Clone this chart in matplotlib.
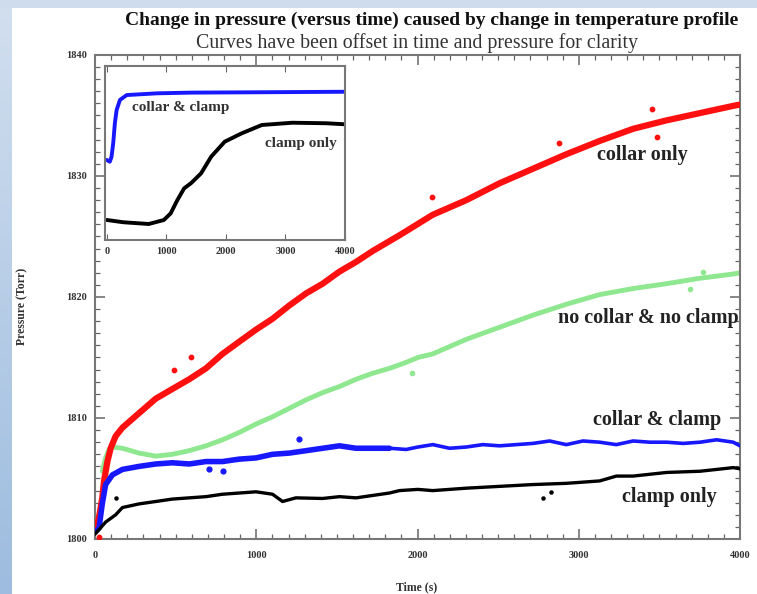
import matplotlib
matplotlib.use("Agg")
import matplotlib.pyplot as plt
import numpy as np
from matplotlib.ticker import MultipleLocator
from matplotlib.colors import LinearSegmentedColormap

# ---------------- data ----------------
t_red = [0, 25, 45, 56, 77, 97, 128, 170, 273, 377, 480, 584, 688, 791, 894, 998,
         1101, 1205, 1309, 1412, 1516, 1619, 1722, 1888, 2095, 2302, 2509, 2716,
         2923, 3130, 3337, 3545, 3752, 3959, 4000]
p_red = [1800.6, 1801.8, 1803.4, 1804.8, 1806.4, 1807.5, 1808.5, 1809.2, 1810.4,
         1811.6, 1812.4, 1813.2, 1814.1, 1815.3, 1816.3, 1817.3, 1818.2, 1819.3,
         1820.3, 1821.1, 1822.1, 1822.9, 1823.8, 1825.1, 1826.8, 1828.0, 1829.4,
         1830.6, 1831.8, 1832.9, 1833.9, 1834.6, 1835.2, 1835.8, 1835.9]
t_red_out = [25, 490, 596, 2093, 2876, 3453, 3484]
p_red_out = [1800.2, 1814.0, 1815.0, 1828.3, 1832.7, 1835.5, 1833.2]

t_green = [45, 66, 87, 108, 170, 273, 377, 480, 584, 688, 791, 894, 998, 1101,
           1205, 1309, 1412, 1516, 1619, 1722, 1826, 1930, 2002, 2095, 2302, 2509,
           2716, 2923, 3130, 3337, 3545, 3752, 3959, 4000]
p_green = [1805.6, 1806.7, 1807.4, 1807.6, 1807.5, 1807.1, 1806.85, 1807.0, 1807.3,
           1807.7, 1808.2, 1808.8, 1809.5, 1810.1, 1810.8, 1811.5, 1812.1, 1812.6,
           1813.2, 1813.7, 1814.1, 1814.6, 1815.0, 1815.3, 1816.5, 1817.5, 1818.5,
           1819.4, 1820.2, 1820.7, 1821.1, 1821.55, 1821.9, 1822.0]
t_green_out = [1963, 3690, 3770]
p_green_out = [1813.7, 1820.7, 1822.1]

t_blue = [0, 25, 45, 66, 108, 170, 273, 377, 480, 584, 688, 791, 894, 998, 1101,
          1205, 1309, 1412, 1516, 1619, 1722, 1826, 1930, 2002, 2095, 2198, 2302,
          2405, 2509, 2612, 2716, 2819, 2923, 3026, 3130, 3233, 3337, 3441, 3545,
          3648, 3752, 3855, 3958, 4000]
p_blue = [1800.6, 1800.9, 1802.9, 1804.5, 1805.3, 1805.75, 1806.0, 1806.2, 1806.3,
          1806.2, 1806.4, 1806.4, 1806.6, 1806.7, 1807.0, 1807.1, 1807.3, 1807.5,
          1807.7, 1807.5, 1807.5, 1807.5, 1807.4, 1807.6, 1807.8, 1807.5, 1807.6,
          1807.8, 1807.7, 1807.8, 1807.9, 1808.1, 1807.8, 1808.1, 1808.0, 1807.8,
          1808.1, 1808.0, 1808.0, 1807.9, 1808.0, 1808.2, 1808.0, 1807.7]
t_blue_out = [708, 791, 1267]
p_blue_out = [1805.75, 1805.6, 1808.3]

t_black = [0, 66, 128, 170, 273, 377, 480, 584, 688, 791, 894, 998, 1101, 1163,
           1246, 1412, 1516, 1619, 1722, 1826, 1888, 2002, 2095, 2302, 2509, 2716,
           2923, 3130, 3233, 3337, 3545, 3752, 3958, 4000]
p_black = [1800.4, 1801.4, 1802.0, 1802.6, 1802.9, 1803.1, 1803.3, 1803.4, 1803.5,
           1803.7, 1803.8, 1803.9, 1803.7, 1803.1, 1803.4, 1803.35, 1803.5, 1803.4,
           1803.6, 1803.8, 1804.0, 1804.1, 1804.0, 1804.2, 1804.35, 1804.5, 1804.6,
           1804.8, 1805.2, 1805.2, 1805.5, 1805.6, 1805.9, 1805.8]
t_black_out = [128, 2778, 2830]
p_black_out = [1803.4, 1803.4, 1803.9]

# inset (arbitrary pressure units)
t_in_blue = [0, 51, 80, 108, 136, 165, 221, 335, 846, 1413, 2548, 4000]
p_in_blue = [4.6, 4.5, 4.79, 5.57, 6.72, 7.47, 8.05, 8.33, 8.43, 8.47, 8.49, 8.52]
t_in_black = [0, 278, 704, 959, 1072, 1186, 1299, 1413, 1583, 1753, 1980, 2265,
              2604, 3115, 3682, 4000]
p_in_black = [1.15, 1.02, 0.92, 1.15, 1.53, 2.3, 2.97, 3.26, 3.83, 4.79, 5.65,
              6.13, 6.61, 6.74, 6.71, 6.65]

title = "Change in pressure (versus time) caused by change in temperature profile"
subtitle = "Curves have been offset in time and pressure for clarity"
labels_main = ["collar only", "no collar & no clamp", "collar & clamp", "clamp only"]
labels_inset = ["collar & clamp", "clamp only"]

# ---------------- figure ----------------
W, H = 757, 594
fig = plt.figure(figsize=(W / 100, H / 100), dpi=100)
fig.patch.set_facecolor("white")
serif = ["Liberation Serif", "DejaVu Serif"]

# light-blue frame strips
bg = fig.add_axes([0, 0, 1, 1], zorder=-10)
grad = np.linspace(0, 1, 256).reshape(-1, 1)
cm = LinearSegmentedColormap.from_list("bl", ["#d2dfef", "#9dbcdf"])
bg.imshow(grad, cmap=cm, extent=[0, 12, H, 0], aspect="auto")
bg.add_patch(plt.Rectangle((0, 0), W, 8, color="#cfdcee", lw=0))
bg.set_xlim(0, W); bg.set_ylim(H, 0); bg.axis("off")

def fx(px):
    return px / W

def fy(py):
    return 1 - py / H

# main axes: x 95..740, y 55..539
ax = fig.add_axes([fx(95), fy(539), (740 - 95) / W, (539 - 55) / H])
ax.set_xlim(0, 4000)
ax.set_ylim(1800, 1840)

ax.plot(t_red, p_red, color="#ff1010", lw=4.5, solid_capstyle="round", zorder=3)
ax.scatter(t_red_out, p_red_out, s=10, color="#ff1010", zorder=3)
ax.plot(t_green, p_green, color="#8fe88f", lw=3.5, solid_capstyle="round", zorder=2)
ax.scatter(t_green_out, p_green_out, s=9, color="#8fe88f", zorder=2)
nb = sum(1 for t in t_blue if t <= 1830)
ax.plot(t_blue[:nb], p_blue[:nb], color="#1818ff", lw=4.0, solid_capstyle="round", zorder=4)
ax.plot(t_blue[nb - 1:], p_blue[nb - 1:], color="#1818ff", lw=2.6, solid_capstyle="round", zorder=4)
ax.scatter(t_blue_out, p_blue_out, s=12, color="#1818ff", zorder=4)
ax.plot(t_black, p_black, color="black", lw=2.4, solid_capstyle="round", zorder=5)
ax.scatter(t_black_out, p_black_out, s=5, color="black", zorder=5)

ax.xaxis.set_major_locator(MultipleLocator(1000))
ax.xaxis.set_minor_locator(MultipleLocator(100))
ax.yaxis.set_major_locator(MultipleLocator(10))
ax.yaxis.set_minor_locator(MultipleLocator(1))
ax.tick_params(which="both", direction="in", top=True, right=True, color="#666666")
ax.tick_params(which="major", length=7, width=1.1)
ax.tick_params(which="minor", length=3.5, width=0.9)
ax.tick_params(axis="x", pad=9)
ax.tick_params(axis="y", pad=6)
for s in ax.spines.values():
    s.set_color("#777777"); s.set_linewidth(1.5)
for lab in ax.get_xticklabels() + ax.get_yticklabels():
    lab.set_fontfamily(serif); lab.set_fontweight("bold"); lab.set_fontsize(7.5)
    lab.set_color("#333333")

lkw = dict(fontfamily=serif, fontweight="bold", fontsize=14.5, color="#222222",
           ha="center", va="center")
ax.text(3392, 1831.7, labels_main[0], **lkw)
ax.text(3429, 1818.3, labels_main[1], **lkw)
ax.text(3485, 1809.8, labels_main[2], **lkw)
ax.text(3560, 1803.5, labels_main[3], **lkw)

# titles and axis labels
fig.text(fx(432), fy(20), title, fontfamily=serif, fontweight="bold", fontsize=14,
         ha="center", va="center", color="#111111")
fig.text(fx(417), fy(43), subtitle, fontfamily=serif, fontsize=14.3,
         ha="center", va="center", color="#333333")
fig.text(fx(22), fy(306), "Pressure (Torr)", fontfamily=serif, fontweight="bold",
         fontsize=8.5, rotation=90, ha="center", va="center", color="#333333")
fig.text(fx(417), fy(587), "Time (s)", fontfamily=serif, fontweight="bold",
         fontsize=8.5, ha="center", va="center", color="#333333")

# inset: x 105..345, y 66..240
axi = fig.add_axes([fx(105), fy(240), (345 - 105) / W, (240 - 66) / H], zorder=6)
axi.set_facecolor("white")
axi.set_xlim(-30, 4000)
axi.set_ylim(0, 10)
axi.plot(t_in_blue, p_in_blue, color="#1818ff", lw=2.8, solid_capstyle="round")
axi.plot(t_in_black, p_in_black, color="black", lw=2.8, solid_capstyle="round")
axi.xaxis.set_major_locator(MultipleLocator(1000))
axi.set_yticks([])
axi.tick_params(axis="x", which="major", direction="in", top=True, length=4,
                color="#666666", pad=5)
for s in axi.spines.values():
    s.set_color("#777777"); s.set_linewidth(1.5)
for lab in axi.get_xticklabels():
    lab.set_fontfamily(serif); lab.set_fontweight("bold"); lab.set_fontsize(7.5)
    lab.set_color("#333333")
ikw = dict(fontfamily=serif, fontweight="bold", fontsize=11, color="#333333",
           ha="center", va="center")
axi.text(1243, 7.59, labels_inset[0], **ikw)
axi.text(3251, 5.57, labels_inset[1], **ikw)

fig.savefig("out.png", dpi=100)
